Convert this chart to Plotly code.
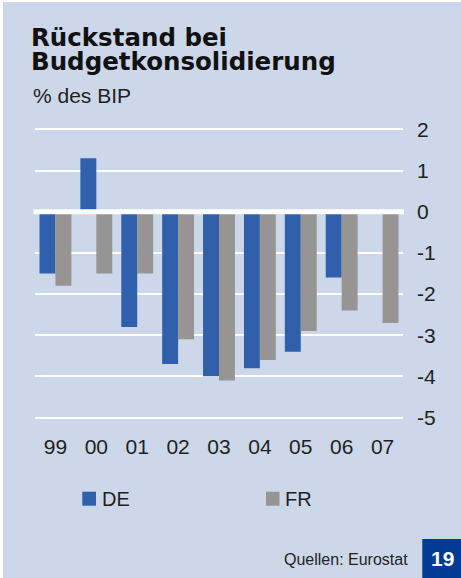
import plotly.graph_objects as go

# ---- data ----
years = ["99", "00", "01", "02", "03", "04", "05", "06", "07"]
de_values = [-1.5, 1.3, -2.8, -3.7, -4.0, -3.8, -3.4, -1.6, None]
fr_values = [-1.8, -1.5, -1.5, -3.1, -4.1, -3.6, -2.9, -2.4, -2.7]
y_ticks = [2, 1, 0, -1, -2, -3, -4, -5]
y_ticktext = ["2", "1", "0", "-1", "-2", "-3", "-4", "-5"]
series_names = ["DE", "FR"]

title_line1 = "Rückstand bei"
title_line2 = "Budgetkonsolidierung"
subtitle = "% des BIP"
source = "Quellen: Eurostat"
page_no = "19"

# ---- style ----
W, H = 461, 578
BG = "#ccd7e9"
DE_COL = "#3060ac"
FR_COL = "#969594"
TXT = "#231f20"
BOX = "#003a94"
FONT = "Liberation Sans, Arial, sans-serif"
TITLE_FONT = dict(family="DejaVu Sans", size=24.5, color="#111111", weight=700)

L, R, T, B = 35, 58, 125, 156
PW = W - L - R
PH = H - T - B


def xp(px):
    return (px - L) / PW


def yp(py):
    return (H - B - py) / PH


fig = go.Figure()
fig.add_trace(go.Bar(x=years, y=de_values, name=series_names[0],
                     marker=dict(color=DE_COL, line=dict(width=0))))
fig.add_trace(go.Bar(x=years, y=fr_values, name=series_names[1],
                     marker=dict(color=FR_COL, line=dict(width=0))))

shapes = [
    # background panel with thin white margin at left/top
    dict(type="rect", xref="paper", yref="paper", x0=xp(3), x1=xp(W + 2),
         y0=yp(H + 2), y1=yp(2), fillcolor=BG, line=dict(width=0), layer="below"),
    # thick zero line drawn above bars
    dict(type="line", xref="paper", yref="y", x0=xp(33.5), x1=xp(404), y0=0, y1=0,
         line=dict(color="white", width=5), layer="above"),
    # legend squares
    dict(type="rect", xref="paper", yref="paper", x0=xp(82.3), x1=xp(96),
         y0=yp(505.7), y1=yp(491.7), fillcolor=DE_COL, line=dict(width=0)),
    dict(type="rect", xref="paper", yref="paper", x0=xp(266), x1=xp(279.5),
         y0=yp(505.7), y1=yp(491.7), fillcolor=FR_COL, line=dict(width=0)),
    # page number box
    dict(type="rect", xref="paper", yref="paper", x0=xp(422.3), x1=xp(W + 2),
         y0=yp(H + 2), y1=yp(539), fillcolor=BOX, line=dict(width=0)),
]

annotations = [
    dict(text=title_line1, x=xp(30), y=yp(37), xanchor="left", yanchor="middle",
         font=TITLE_FONT, borderpad=0),
    dict(text=title_line2, x=xp(30), y=yp(61), xanchor="left", yanchor="middle",
         font=TITLE_FONT, borderpad=0),
    dict(text=subtitle, x=xp(31), y=yp(95), xanchor="left", yanchor="middle",
         font=dict(family=FONT, size=21, color=TXT)),
    dict(text=series_names[0], x=xp(100), y=yp(499), xanchor="left", yanchor="middle",
         font=dict(family=FONT, size=20, color=TXT)),
    dict(text=series_names[1], x=xp(283), y=yp(499), xanchor="left", yanchor="middle",
         font=dict(family=FONT, size=20, color=TXT)),
    dict(text=source, x=xp(410), y=yp(559), xanchor="right", yanchor="middle",
         font=dict(family=FONT, size=16, color=TXT)),
    dict(text=f"<b>{page_no}</b>", x=xp(442), y=yp(558), xanchor="center", yanchor="middle",
         font=dict(family=FONT, size=21, color="white")),
]
for a in annotations:
    a.update(xref="paper", yref="paper", showarrow=False)

fig.update_layout(
    width=W, height=H,
    margin=dict(l=L, r=R, t=T, b=B, pad=0),
    paper_bgcolor="white",
    plot_bgcolor="rgba(0,0,0,0)",
    barmode="group", bargap=0.22, bargroupgap=0,
    showlegend=False,
    shapes=shapes,
    annotations=annotations,
    font=dict(family=FONT, color=TXT),
    xaxis=dict(type="category", range=[-0.5, 8.5], showgrid=False, zeroline=False,
               showline=False, ticks="", tickfont=dict(size=21, color=TXT),
               ticklabelstandoff=10, fixedrange=True),
    yaxis=dict(range=[-5.109, 2.109], side="right", tickvals=y_ticks, ticktext=y_ticktext,
               showgrid=True, gridcolor="white", gridwidth=2, zeroline=False,
               showline=False, ticks="", tickfont=dict(size=21, color=TXT),
               ticklabelstandoff=13, fixedrange=True),
)

fig.write_html(
    "out.html",
    config={"displayModeBar": False},
    post_script="document.body.style.margin='0';document.body.style.padding='0';",
)
